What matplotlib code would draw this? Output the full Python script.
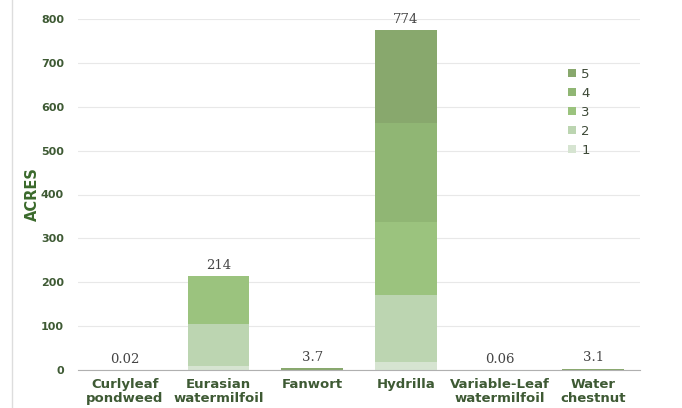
import matplotlib
matplotlib.use("Agg")
import matplotlib.pyplot as plt
from matplotlib.lines import Line2D
from matplotlib.patches import Patch

categories = ["Curlyleaf\npondweed", "Eurasian\nwatermilfoil", "Fanwort",
              "Hydrilla", "Variable-Leaf\nwatermilfoil", "Water\nchestnut"]
levels = ["1", "2", "3", "4", "5"]
level_values = {
    "1": [0.0, 8, 0.0, 19, 0.0, 0.0],
    "2": [0.0, 97, 0.0, 152, 0.0, 0.0],
    "3": [0.0, 109, 0.0, 167, 0.0, 0.0],
    "4": [0.0, 0.0, 0.0, 224, 0.0, 0.0],
    "5": [0.02, 0.0, 3.7, 212, 0.06, 3.1],
}
totals = [0.02, 214, 3.7, 774, 0.06, 3.1]
total_labels = ["0.02", "214", "3.7", "774", "0.06", "3.1"]
yticks = [0, 100, 200, 300, 400, 500, 600, 700, 800]

colors = {"1": "#d6e4d1", "2": "#bcd5b1", "3": "#9bc37e",
          "4": "#90b674", "5": "#88a86d"}
tick_color = "#3e5a34"

fig = plt.figure(figsize=(6.82, 4.08), dpi=100)
ax = fig.add_axes([78 / 682, 38 / 408, 562 / 682, 351 / 408])

x = list(range(len(categories)))
bottom = [0.0] * len(categories)
for lv in levels:
    vals = level_values[lv]
    ax.bar(x, vals, width=0.66, bottom=bottom, color=colors[lv],
           edgecolor="none", zorder=2)
    bottom = [b + v for b, v in zip(bottom, vals)]

for xi, t, lab in zip(x, totals, total_labels):
    ax.annotate(lab, (xi, t), xytext=(0, 3), textcoords="offset points",
                ha="center", va="bottom", family="DejaVu Serif",
                fontsize=9.5, color="#444444")

ax.set_xlim(-0.5, len(categories) - 0.5)
ax.set_ylim(0, 800)
ax.set_yticks(yticks)
ax.set_yticklabels([str(v) for v in yticks], fontsize=8,
                   fontweight="bold", color=tick_color)
ax.set_xticks(x)
ax.set_xticklabels(categories, fontsize=9.5, fontweight="bold",
                   color=tick_color, linespacing=1.05)
ax.tick_params(axis="both", length=0)
ax.tick_params(axis="y", pad=10)
ax.tick_params(axis="x", pad=6)
ax.grid(axis="y", color="#e8e8e8", linewidth=0.8, zorder=0)
ax.set_axisbelow(True)
for side in ["top", "right", "left"]:
    ax.spines[side].set_visible(False)
ax.spines["bottom"].set_color("#b0b0b0")
ax.spines["bottom"].set_linewidth(0.8)

ax.set_ylabel("ACRES", fontsize=10.5, fontweight="bold", color="#3b6a2c",
              labelpad=1)

handles = [Patch(facecolor=colors[lv], edgecolor="none", label=lv)
           for lv in reversed(levels)]
leg = ax.legend(handles=handles, loc="upper left",
                bbox_to_anchor=(478 / 562, 314 / 351), frameon=False,
                handlelength=0.6, handleheight=0.6, handletextpad=0.4,
                labelspacing=0.45, fontsize=9.5)
for t in leg.get_texts():
    t.set_color("#3e4a38")

fig.add_artist(Line2D([12 / 682, 12 / 682], [0, 1], color="#dddddd",
                      linewidth=1, transform=fig.transFigure))

fig.savefig("out.png", dpi=100)
